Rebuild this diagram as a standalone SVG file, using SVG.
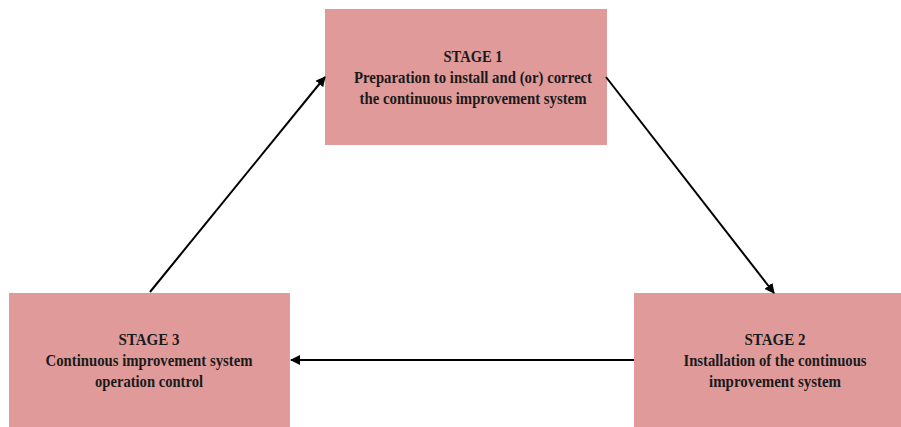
<svg xmlns="http://www.w3.org/2000/svg" width="901" height="427" viewBox="0 0 901 427">
<defs>
<style>
.box{fill:#e09a9a;}
.t{font-family:"Liberation Serif","Times New Roman",serif;font-weight:bold;font-size:16px;fill:#1a1a1a;text-anchor:middle;}
.c{stroke:#000;stroke-width:2;fill:none;marker-end:url(#ah);}
</style>
<marker id="ah" markerWidth="10" markerHeight="10" refX="9" refY="5" orient="auto" markerUnits="userSpaceOnUse">
<path d="M0,0 L10,5 L0,10 z" fill="#000"/>
</marker>
</defs>
<rect width="901" height="427" fill="#fff"/>
<g id="stage1">
<rect class="box" x="325" y="9" width="282" height="136"/>
<text class="t" x="473" y="62" textLength="59" lengthAdjust="spacingAndGlyphs">STAGE 1</text>
<text class="t" x="473" y="83" textLength="238" lengthAdjust="spacingAndGlyphs">Preparation to install and (or) correct</text>
<text class="t" x="473" y="104" textLength="227" lengthAdjust="spacingAndGlyphs">the continuous improvement system</text>
</g>
<g id="stage2">
<rect class="box" x="634" y="293" width="267" height="134"/>
<text class="t" x="775" y="345" textLength="61" lengthAdjust="spacingAndGlyphs">STAGE 2</text>
<text class="t" x="775" y="366" textLength="183" lengthAdjust="spacingAndGlyphs">Installation of the continuous</text>
<text class="t" x="775" y="387" textLength="132" lengthAdjust="spacingAndGlyphs">improvement system</text>
</g>
<g id="stage3">
<rect class="box" x="9" y="293" width="281" height="134"/>
<text class="t" x="149" y="345" textLength="61" lengthAdjust="spacingAndGlyphs">STAGE 3</text>
<text class="t" x="149" y="366" textLength="207" lengthAdjust="spacingAndGlyphs">Continuous improvement system</text>
<text class="t" x="149" y="387" textLength="108" lengthAdjust="spacingAndGlyphs">operation control</text>
</g>
<g id="connectors">
<line class="c" x1="150" y1="292" x2="325" y2="77"/>
<line class="c" x1="606" y1="77" x2="774" y2="293"/>
<line class="c" x1="634" y1="360" x2="291" y2="360"/>
</g>
</svg>
